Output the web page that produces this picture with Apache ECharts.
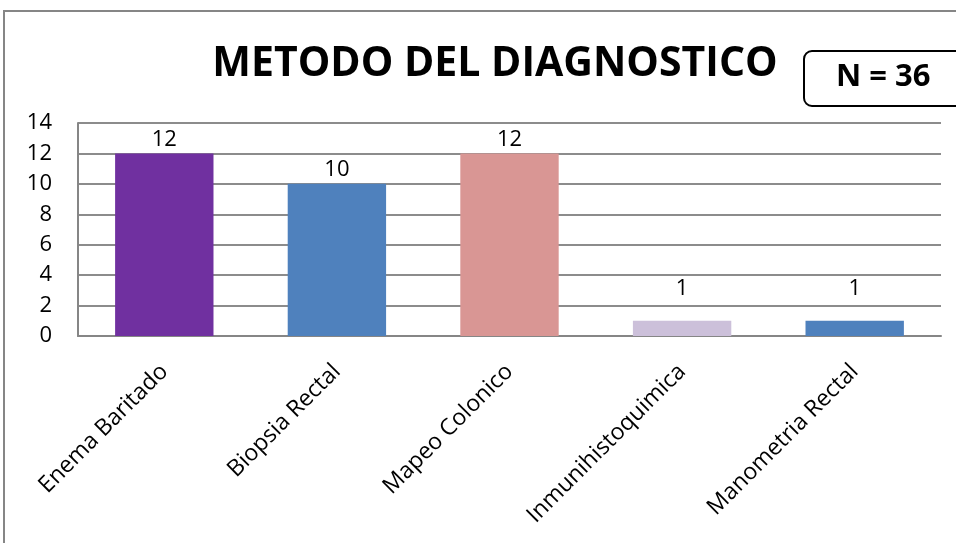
<!DOCTYPE html>
<html>
<head>
<meta charset="utf-8">
<script src="https://cdn.jsdelivr.net/npm/echarts@6/dist/echarts.min.js"></script>
<style>
  html, body { margin: 0; padding: 0; background: #fff; }
  #chart { width: 956px; height: 543px; }
</style>
</head>
<body>
<div id="chart"></div>
<script>
// datos del grafico
const categorias = ['Enema Baritado', 'Biopsia Rectal', 'Mapeo Colonico', 'Inmunihistoquimica', 'Manometria Rectal']
const valores = [12, 10, 12, 1, 1]
const colores = ['#7030A0', '#4F81BD', '#D99694', '#CCC0DA', '#4F81BD']
const yTicks = [0, 2, 4, 6, 8, 10, 12, 14]

const fuente = 'Open Sans'
const chart = echarts.init(document.getElementById('chart'))

const barData = valores.map((v, i) => ({
  value: v,
  itemStyle: { color: colores[i] },
  label: { distance: v < 2 ? 21 : 3 }
}))

const option = {
  animation: false,
  textStyle: { fontFamily: fuente },
  title: {
    text: 'METODO DEL DIAGNOSTICO',
    left: 490,
    top: 39,
    textAlign: 'center',
    textStyle: { fontFamily: fuente, fontWeight: 'bold', fontSize: 41, color: '#000' }
  },
  graphic: [
    {
      // marco exterior
      type: 'polyline',
      shape: { points: [[4, 543], [4, 11], [956, 11]] },
      style: { stroke: '#868686', lineWidth: 2, fill: null }
    },
    {
      type: 'rect',
      shape: { x: 804, y: 51, width: 170, height: 55, r: 8 },
      style: { stroke: '#000', lineWidth: 2, fill: '#fff' }
    },
    {
      type: 'text',
      left: 836,
      top: 62,
      style: { text: 'N = 36', font: 'bold 31px ' + fuente, fill: '#000' }
    }
  ],
  grid: { left: 78, right: 15, top: 123, bottom: 207, containLabel: false },
  xAxis: {
    type: 'category',
    data: categorias,
    axisLine: { lineStyle: { color: '#868686', width: 2 } },
    axisTick: { show: false },
    axisLabel: { rotate: 45, fontSize: 23, color: '#000', margin: 32, fontFamily: fuente }
  },
  yAxis: {
    type: 'value',
    min: yTicks[0],
    max: yTicks[yTicks.length - 1],
    interval: 2,
    axisLine: { show: true, lineStyle: { color: '#868686', width: 2 } },
    axisTick: { show: false },
    axisLabel: { fontSize: 22, color: '#000', margin: 26, fontFamily: fuente },
    splitLine: { lineStyle: { color: '#8c8c8c', width: 2 } }
  },
  series: [{
    type: 'bar',
    barWidth: '57%',
    data: barData,
    label: { show: true, position: 'top', fontSize: 22, color: '#000', fontFamily: fuente }
  }]
}

chart.setOption(option)
</script>
</body>
</html>
